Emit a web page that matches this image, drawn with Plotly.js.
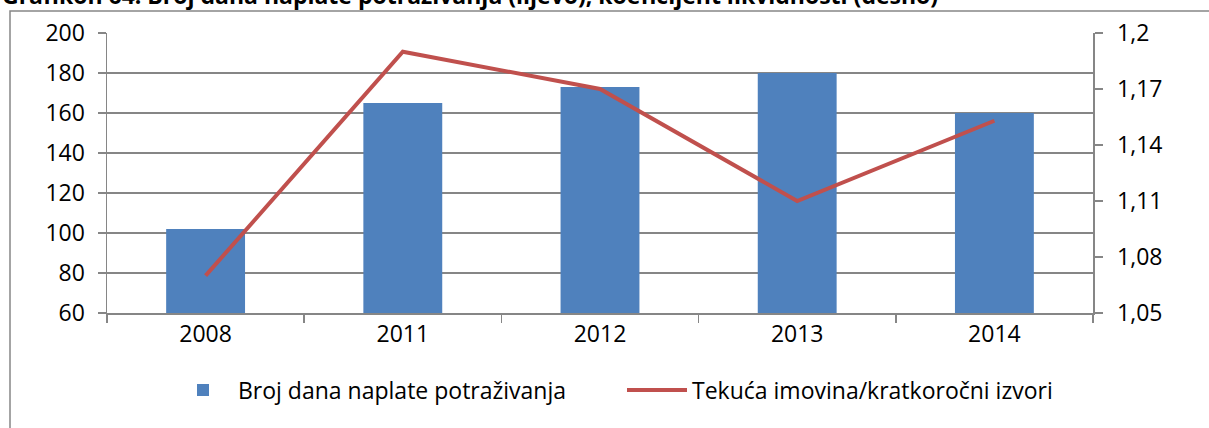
<!DOCTYPE html>
<html>
<head>
<meta charset="utf-8">
<script src="https://cdn.plot.ly/plotly-3.0.1.min.js"></script>
<style>html,body{margin:0;padding:0;background:#fff;}#chart{width:1209px;height:428px;}</style>
</head>
<body>
<div id="chart"></div>
<script>
const years = ['2008', '2011', '2012', '2013', '2014'];
const brojDana = [102, 165, 173, 180, 160];
const koeficijent = [1.07, 1.19, 1.17, 1.11, 1.153];
const barName = 'Broj dana naplate potraživanja';
const lineName = 'Tekuća imovina/kratkoročni izvori';
const titleText = 'Grafikon 64: Broj dana naplate potraživanja (lijevo), koeficijent likvidnosti (desno)';

const FONT = 'Open Sans, Noto Sans, sans-serif';
const grey = '#868686';

const traces = [
  {
    type: 'bar', x: years, y: brojDana, name: barName,
    marker: {color: '#4F81BD'}, yaxis: 'y'
  },
  {
    type: 'scatter', mode: 'lines', x: years, y: koeficijent, name: lineName,
    line: {color: '#C0504D', width: 4}, yaxis: 'y2'
  }
];

const layout = {
  width: 1209, height: 428,
  margin: {l: 107, r: 116, t: 33, b: 115, autoexpand: false},
  paper_bgcolor: '#ffffff', plot_bgcolor: '#ffffff',
  separators: ',.',
  font: {family: FONT, size: 22, color: '#000'},
  bargap: 0.6,
  showlegend: true,
  legend: {
    orientation: 'h', x: (168 - 107) / 986, xanchor: 'left', y: -0.275, yanchor: 'middle',
    font: {family: FONT, size: 23, color: '#000'}, itemwidth: 60, tracegroupgap: 0,
    entrywidth: 379, entrywidthmode: 'pixels'
  },
  xaxis: {
    type: 'category', showgrid: false, showline: true, linecolor: grey, linewidth: 1.5,
    ticks: 'outside', tickson: 'boundaries', ticklen: 8, tickcolor: grey, tickwidth: 1.5,
    tickfont: {family: FONT, size: 23, color: '#000'}, fixedrange: true
  },
  yaxis: {
    range: [60, 200], dtick: 20, tick0: 60, showgrid: true, gridcolor: grey, gridwidth: 1.5,
    showline: true, linecolor: grey, linewidth: 1.5, zeroline: false,
    ticks: 'outside', ticklen: 8, tickcolor: grey, tickwidth: 1.5,
    tickfont: {family: FONT, size: 23, color: '#000'}, ticklabelstandoff: 8
  },
  yaxis2: {
    overlaying: 'y', side: 'right', range: [1.05, 1.2], dtick: 0.03, tick0: 1.05,
    showgrid: false, showline: true, linecolor: grey, linewidth: 1.5, zeroline: false,
    ticks: 'outside', ticklen: 8, tickcolor: grey, tickwidth: 1.5,
    tickfont: {family: FONT, size: 23, color: '#000'}, ticklabelstandoff: 10
  },
  shapes: [
    {type: 'rect', xref: 'paper', yref: 'paper', layer: 'below',
     x0: -97/986, x1: 1.3, y0: 1 + 22/280, y1: -0.6,
     line: {color: grey, width: 1.5}, fillcolor: 'rgba(0,0,0,0)'}
  ],
  annotations: [
    {text: '<b>' + titleText + '</b>', xref: 'paper', yref: 'paper',
     x: -107/986, xanchor: 'left', y: 1 + 20/280, yanchor: 'bottom',
     showarrow: false, font: {family: FONT, size: 23, color: '#000'}}
  ]
};

Plotly.newPlot('chart', traces, layout, {displayModeBar: false, staticPlot: true});
</script>
</body>
</html>
